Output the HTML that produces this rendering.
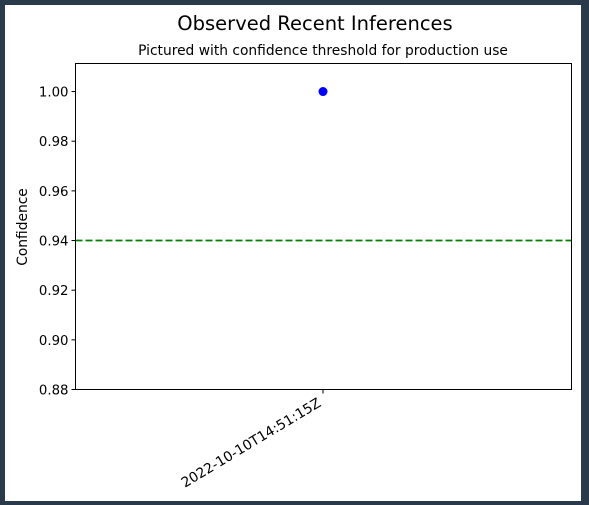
<!DOCTYPE html>
<html><head><meta charset="utf-8"><style>
body{margin:0;width:589px;height:505px;background:#2b3a4b;overflow:hidden}
svg{position:absolute;left:0;top:0}
text{font-family:"DejaVu Sans","Liberation Sans",sans-serif;fill:#000}
</style></head><body>
<svg width="589" height="505">
<rect x="5" y="5" width="576" height="496" fill="#fff"/>
<text x="315" y="30" font-size="19.5" text-anchor="middle">Observed Recent Inferences</text>
<text x="323" y="55" font-size="13.8" text-anchor="middle">Pictured with confidence threshold for production use</text>
<text transform="translate(27,227) rotate(-90)" font-size="13.8" text-anchor="middle">Confidence</text>
<g id="yticks"></g>
<g id="xticks"></g>
<g id="marks"></g>
<rect x="75.5" y="63.5" width="496" height="326" fill="none" stroke="#000" stroke-width="1"/>
</svg>
<script>
const categories=["2022-10-10T14:51:15Z"];
const confidences=[1.00];
const threshold=[0.94];
const yTickValues=[0.88,0.90,0.92,0.94,0.96,0.98,1.00];
const NS="http://www.w3.org/2000/svg";
const L=75.5,R=571.5,T=63.5,B=389.5;
const yMin=0.88,yMax=1.0113;
function y(v){return B-(v-yMin)/(yMax-yMin)*(B-T);}
function x(i){return L+(i+0.5)/categories.length*(R-L)-0.5;}
function mk(tag,attrs,parent){const e=document.createElementNS(NS,tag);for(const k in attrs)e.setAttribute(k,attrs[k]);parent.appendChild(e);return e;}
const yt=document.getElementById('yticks'),xt=document.getElementById('xticks'),mg=document.getElementById('marks');
yTickValues.forEach(v=>{
 const l=mk('line',{x1:L-4,x2:L,y1:y(v),y2:y(v),stroke:'#000'},yt);
 
 
 const t=mk('text',{x:L-7,y:y(v)+5,'font-size':13.3,'text-anchor':'end'},yt);
 t.textContent=v.toFixed(2);
 
 
});
categories.forEach((c,i)=>{
 const l=mk('line',{x1:x(i),x2:x(i),y1:B,y2:B+4,stroke:'#000'},xt);
 
 
 const t=mk('text',{transform:`translate(${x(i)-1},${B+16}) rotate(-31)`,'font-size':13.8,'text-anchor':'end'},xt);
 t.textContent=c;
 
 
});
const th=mk('line',{x1:L,x2:R,y1:y(threshold[0]),y2:y(threshold[0]),stroke:'#008000','stroke-width':1.8,'stroke-dasharray':'7,3'},mg);


confidences.forEach((v,i)=>{
 const c=mk('circle',{cx:x(i),cy:y(v),r:4.5,fill:'#0000ff'},mg);
 
 
});
</script>
</body></html>
